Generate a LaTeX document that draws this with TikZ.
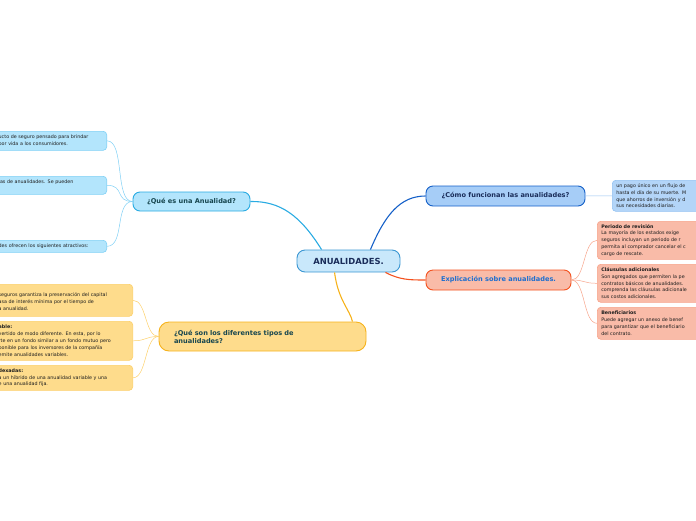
\documentclass[tikz,border=0pt]{standalone}
\usepackage{fontspec}
\setmainfont{DejaVu Sans}
\usepackage{tikz}
\usetikzlibrary{positioning,calc}
\definecolor{rootfill}{HTML}{C9E8FB}
\definecolor{rootline}{HTML}{3B97D3}
\definecolor{rootink}{HTML}{1A2D5A}
\definecolor{cyanfill}{HTML}{B3E5FC}
\definecolor{cyanline}{HTML}{29ABE2}
\definecolor{cyansoft}{HTML}{7FD0F5}
\definecolor{bluefill}{HTML}{A6CDF7}
\definecolor{blueline}{HTML}{1560C8}
\definecolor{bluesoft}{HTML}{93C2F2}
\definecolor{bluesub}{HTML}{B3D5F8}
\definecolor{redfill}{HTML}{F9BBA8}
\definecolor{redline}{HTML}{F4511E}
\definecolor{redsoft}{HTML}{F7A38A}
\definecolor{redink}{HTML}{1E6FCF}
\definecolor{yelfill}{HTML}{FEDC8C}
\definecolor{yelline}{HTML}{F6B21B}
\definecolor{yelsoft}{HTML}{FCD06A}
\definecolor{topink}{HTML}{17464F}
\definecolor{subink}{HTML}{1E1E1E}
\tikzset{
  mm/.style={x=1pt, y=-1pt},
  box/.style={draw, rounded corners=3.5pt, line width=0.6pt, inner xsep=4pt, inner ysep=2pt,
              align=left, text=subink, font=\fontsize{4.8}{6.8}\selectfont},
  topic/.style={draw, rounded corners=7pt, line width=0.9pt, text=topink,
                font=\fontsize{6.6}{7.8}\selectfont\bfseries},
  root/.style={draw=rootline, fill=rootfill, rounded corners=8pt, line width=0.9pt, text=rootink,
               minimum width=103pt, minimum height=22pt, font=\fontsize{8.4}{9}\selectfont\bfseries},
  link/.style={line width=1.1pt},
  twig/.style={line width=0.5pt}
}

\begin{document}
\begin{tikzpicture}[mm]
\useasboundingbox (0,0) rectangle (696,520);
\clip (0,0) rectangle (696,520);
% main idea
\node[root] (ana) at (348.5,261) {ANUALIDADES.};
% topics
\node[topic, draw=cyanline, fill=cyanfill, minimum width=117pt, minimum height=19pt] (que) at (191.5,201.5) {¿Qué es una Anualidad?};
\node[topic, draw=blueline, fill=bluefill, text=rootink, minimum width=159pt, minimum height=20pt] (como) at (505.5,196) {¿Cómo funcionan las anualidades?};
\node[topic, draw=redline, fill=redfill, text=redink, minimum width=145pt, minimum height=20pt] (expl) at (498.5,280) {Explicación sobre anualidades.};
\node[topic, draw=yelline, fill=yelfill, text=topink, rounded corners=10pt, minimum height=29pt,
      text width=177pt, inner xsep=15pt, align=left] (tipos) at (262.5,336.5) {¿Qué son los diferentes tipos de\\anualidades?};
% what is it
\node[box, draw=cyansoft, fill=cyanfill, text width=104pt, minimum height=19pt, anchor=north east] (q1) at (107,131)
  {ucto de seguro pensado para brindar\\por vida a los consumidores.};
\node[box, draw=cyansoft, fill=cyanfill, text width=104pt, minimum height=18pt, anchor=north east] (q2) at (107,176)
  {ías de anualidades. Se pueden\\\mbox{}};
\node[box, draw=cyansoft, fill=cyanfill, text width=104pt, minimum height=12pt, inner ysep=1pt, anchor=north east] (q3) at (107,240)
  {des ofrecen los siguientes atractivos:};
% how they work
\node[box, draw=bluesoft, fill=bluesub, text width=100pt, minimum height=31pt, anchor=north west] (c1) at (612,180)
  {un pago único en un flujo de\\hasta el día de su muerte. M\\que ahorros de inversión y d\\sus necesidades diarias.};
% explanation
\node[box, draw=redsoft, fill=redfill, text width=110pt, minimum height=38pt, anchor=north west] (e1) at (597,221)
  {\textbf{Periodo de revisión}\\La mayoría de los estados exige\\seguros incluyan un periodo de r\\permita al comprador cancelar el c\\cargo de rescate.};
\node[box, draw=redsoft, fill=redfill, text width=110pt, minimum height=38pt, anchor=north west] (e2) at (597,264)
  {\textbf{Cláusulas adicionales}\\Son agregados que permiten la pe\\contratos básicos de anualidades.\\comprenda las cláusulas adicionale\\sus costos adicionales.};
\node[box, draw=redsoft, fill=redfill, text width=110pt, minimum height=32pt, anchor=north west] (e3) at (597,307)
  {\textbf{Beneficiarios}\\Puede agregar un anexo de benef\\para garantizar que el beneficiario\\del contrato.};
% kinds
\node[box, draw=yelsoft, fill=yelfill, text width=130pt, minimum height=32pt, anchor=north east] (t1) at (133,284)
  {\mbox{}\\seguros garantiza la preservación del capital\\asa de interés mínima por el tiempo de\\a anualidad.};
\node[box, draw=yelsoft, fill=yelfill, text width=130pt, minimum height=39pt, anchor=north east] (t2) at (133,321)
  {\textbf{able:}\\vertido de modo diferente. En esta, por lo\\rte en un fondo similar a un fondo mutuo pero\\ponible para los inversores de la compañía\\emite anualidades variables.};
\node[box, draw=yelsoft, fill=yelfill, text width=130pt, minimum height=25pt, anchor=north east] (t3) at (133,365)
  {\textbf{dexadas:}\\a un híbrido de una anualidad variable y una\\e una anualidad fija.};
% main links
\draw[link, cyanline] ($(ana.north west)+(25,0)$) .. controls (300,215) and (280,201) .. (que.east);
\draw[link, blueline] ($(ana.north east)+(-30,0)$) .. controls (385,215) and (400,196) .. (como.west);
\draw[link, redline] ($(ana.south east)+(-15,0)$) .. controls (400,280) and (410,280) .. (expl.west);
\draw[link, yelline] ($(ana.south west)+(38,0)$) .. controls (338,300) and (350,310) .. ($(tipos.north east)+(-14,0)$);
% twigs
\foreach \k in {q1,q2,q3}
  \draw[twig, cyansoft] (que.west) .. controls +(-18,0) and +(18,0) .. (\k.east);
\draw[twig, bluesoft] (como.east) -- (c1.west);
\foreach \k in {e1,e2,e3}
  \draw[twig, redsoft] (expl.east) .. controls +(14,0) and +(-14,0) .. (\k.west);
\foreach \k in {t1,t2,t3}
  \draw[twig, yelsoft] (tipos.west) .. controls +(-14,0) and +(14,0) .. (\k.east);
\end{tikzpicture}
\end{document}
